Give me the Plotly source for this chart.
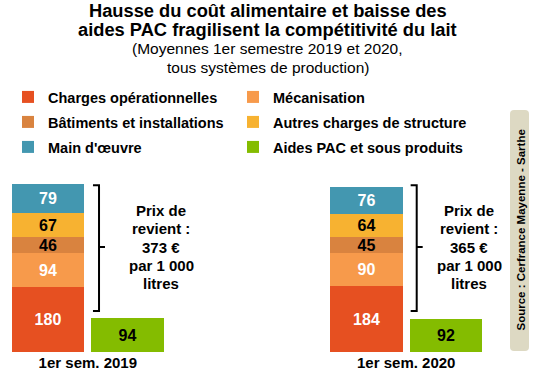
import plotly.graph_objects as go

# ---------------- data ----------------
periods = ["1er sem. 2019", "1er sem. 2020"]
charges_op = [180, 184]
mecanisation = [94, 90]
batiments = [46, 45]
autres_struct = [67, 64]
main_oeuvre = [79, 76]
aides_pac = [94, 92]
prix_revient = [373, 365]

series_names = ["Charges opérationnelles", "Mécanisation", "Bâtiments et installations",
                "Autres charges de structure", "Main d'œuvre"]
series_values = [charges_op, mecanisation, batiments, autres_struct, main_oeuvre]
series_colors = ["#E65021", "#F79A4B", "#D9833F", "#F7B231", "#4397B0"]
series_textcol = ["white", "white", "black", "black", "white"]
aides_name = "Aides PAC et sous produits"
aides_color = "#84BC00"

# ---------------- layout helpers ----------------
W, H = 535, 382
PLOT_TOP, PLOT_BOT = 170, 352          # pixel rows of the bar area
stack_x = [0, 4]
aid_x = [1, 5]
bar_w = 0.91
x_range = [-0.603, 6.118]
y_range = [0, 505]
FONT = "Liberation Sans, Arial, sans-serif"
PX_PER_UNIT = (PLOT_BOT - PLOT_TOP) / (y_range[1] - y_range[0])


def py(px):
    """pixel y -> paper y (margins are zero, so paper = whole figure)"""
    return 1 - px / H


def pxx(px):
    return px / W


# legend slots: (legend id, left px, row centre px)
legend_slots = [("legend", 8, 97), ("legend2", 233, 97),
                ("legend3", 8, 122), ("legend4", 233, 122),
                ("legend5", 8, 147), ("legend6", 233, 147)]

fig = go.Figure()
for i, (name, vals, col, tc) in enumerate(zip(series_names, series_values, series_colors, series_textcol)):
    fig.add_trace(go.Bar(
        x=stack_x, y=vals, name=name, width=bar_w, legend=legend_slots[i][0],
        marker=dict(color=col, line=dict(width=0)),
        text=[str(v) for v in vals], textposition="inside", insidetextanchor="middle",
        textangle=0, constraintext="none",
        textfont=dict(color=tc, size=16, family=FONT, weight="bold"),
    ))
fig.add_trace(go.Bar(
    x=aid_x, y=aides_pac, name=aides_name, width=bar_w, legend=legend_slots[5][0],
    marker=dict(color=aides_color, line=dict(width=0)),
    text=[str(v) for v in aides_pac], textposition="inside", insidetextanchor="middle",
    textangle=0, constraintext="none",
    textfont=dict(color="black", size=16, family=FONT, weight="bold"),
))

# brackets and price texts
br_top, br_bot, br_mid = 463, 114, 291
br_offsets = [0.641, 0.632]
text_x = [1.42, 5.29]
line_step = 18.3 / PX_PER_UNIT
shapes = []
annotations = []
for i, sx in enumerate(stack_x):
    bx = sx + br_offsets[i]
    path = (f"M {bx-0.076},{br_top} L {bx},{br_top} L {bx},{br_bot} L {bx-0.076},{br_bot} "
            f"M {bx},{br_mid} L {bx+0.075},{br_mid}")
    shapes.append(dict(type="path", xref="x", yref="y", path=path,
                       line=dict(color="black", width=2)))
    lines = ["Prix de", "revient :", f"{prix_revient[i]} €", "par 1 000", "litres"]
    for k, ln in enumerate(lines):
        annotations.append(dict(
            x=text_x[i], y=br_mid + (2 - k) * line_step, xref="x", yref="y", showarrow=False,
            text=f"<b>{ln}</b>", font=dict(size=15, family=FONT, color="black"),
            xanchor="center", yanchor="middle"))

# source box (rounded)
x0, x1 = pxx(510), pxx(529)
y0, y1 = py(351), py(110)
rx, ry = 4 / W, 4 / H
box = (f"M {x0+rx},{y0} L {x1-rx},{y0} Q {x1},{y0} {x1},{y0+ry} L {x1},{y1-ry} "
       f"Q {x1},{y1} {x1-rx},{y1} L {x0+rx},{y1} Q {x0},{y1} {x0},{y1-ry} "
       f"L {x0},{y0+ry} Q {x0},{y0} {x0+rx},{y0} Z")
shapes.append(dict(type="path", xref="paper", yref="paper", path=box,
                   fillcolor="#DDD9C3", line=dict(width=0), layer="below"))
annotations.append(dict(x=pxx(520.5), y=py(230), xref="paper", yref="paper", showarrow=False,
                        text="<b>Source : Cerfrance Mayenne - Sarthe</b>", textangle=-90,
                        font=dict(size=11.5, family=FONT, color="black"),
                        xanchor="center", yanchor="middle"))

# titles
for txt, ypx, size, bold in [
    ("Hausse du coût alimentaire et baisse des", 11, 18.3, True),
    ("aides PAC fragilisent la compétitivité du lait", 29, 18.3, True),
    ("(Moyennes 1er semestre 2019 et 2020,", 48, 15.5, False),
    ("tous systèmes de production)", 67, 15.5, False),
]:
    annotations.append(dict(x=0.5, y=py(ypx), xref="paper", yref="paper", showarrow=False,
                            text=f"<b>{txt}</b>" if bold else txt,
                            font=dict(size=size, family=FONT, color="black"),
                            xanchor="center", yanchor="middle"))

legend_common = dict(orientation="v", xanchor="left", yanchor="middle",
                     font=dict(size=14.5, family=FONT, color="black", weight="bold"),
                     bgcolor="rgba(0,0,0,0)")
legend_layout = {lid: dict(x=pxx(lx), y=py(ly), **legend_common) for lid, lx, ly in legend_slots}

fig.update_layout(
    width=W, height=H, margin=dict(l=0, r=0, t=0, b=0, autoexpand=False),
    barmode="stack", bargap=0,
    paper_bgcolor="white", plot_bgcolor="white",
    font=dict(family=FONT, color="black"),
    showlegend=True,
    xaxis=dict(range=x_range, tickvals=[s + 0.5 for s in stack_x], ticktext=periods,
               showgrid=False, zeroline=False, showline=False, ticks="",
               tickfont=dict(size=15, family=FONT, color="black", weight="bold"), fixedrange=True),
    yaxis=dict(range=y_range, domain=[1 - PLOT_BOT / H, 1 - PLOT_TOP / H], visible=False,
               showgrid=False, zeroline=False, fixedrange=True),
    shapes=shapes, annotations=annotations,
    **legend_layout,
)

fig.write_html("out.html", config={"displayModeBar": False},
               post_script="document.body.style.margin='0';document.body.style.padding='0';")
